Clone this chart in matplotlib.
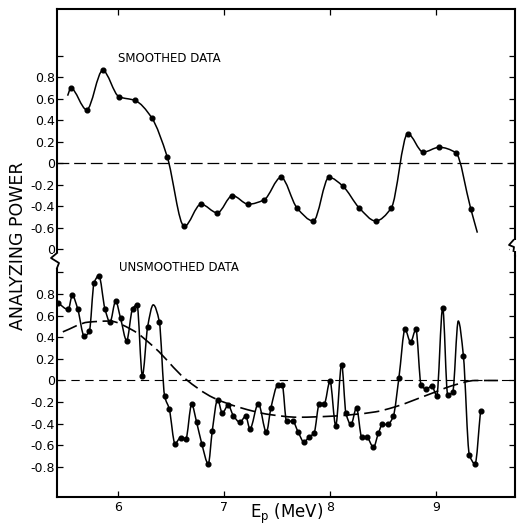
import numpy as np
import matplotlib
matplotlib.use('Agg')
import matplotlib.pyplot as plt
from matplotlib.path import Path
from matplotlib.patches import PathPatch, Rectangle
from matplotlib.lines import Line2D

# smoothed analyzing power (curve knots, first/last carry no dot)
sm_E = [5.525, 5.555, 5.705, 5.856, 6.01, 6.16, 6.318, 6.465, 6.626, 6.783,
        6.937, 7.08, 7.23, 7.377, 7.538, 7.689, 7.843, 7.99, 8.12, 8.276,
        8.43, 8.578, 8.733, 8.88, 9.03, 9.186, 9.327, 9.39]
sm_A = [0.63, 0.70, 0.50, 0.865, 0.62, 0.586, 0.425, 0.06, -0.586, -0.38,
        -0.46, -0.30, -0.38, -0.34, -0.13, -0.415, -0.536, -0.13, -0.21, -0.415,
        -0.536, -0.415, 0.276, 0.105, 0.15, 0.10, -0.42, -0.645]

# unsmoothed analyzing power
us_E = [5.437, 5.531, 5.569, 5.62, 5.682, 5.73, 5.774, 5.82, 5.877, 5.925,
        5.978, 6.025, 6.082, 6.138, 6.18, 6.23, 6.28, 6.333, 6.39, 6.44,
        6.484, 6.538, 6.59, 6.64, 6.695, 6.742, 6.79, 6.852, 6.89, 6.94,
        6.984, 7.04, 7.088, 7.15, 7.205, 7.245, 7.324, 7.40, 7.443, 7.507,
        7.55, 7.59, 7.648, 7.70, 7.755, 7.80, 7.85, 7.90, 7.946, 8.0,
        8.054, 8.11, 8.15, 8.198, 8.25, 8.30, 8.346, 8.41, 8.456, 8.494,
        8.544, 8.597, 8.65, 8.708, 8.76, 8.81, 8.86, 8.91, 8.96, 9.007,
        9.063, 9.11, 9.157, 9.21, 9.258, 9.314, 9.368, 9.42]
us_A = [0.715, 0.657, 0.787, 0.664, 0.41, 0.456, 0.90, 0.97, 0.664, 0.54,
        0.734, 0.574, 0.37, 0.664, 0.70, 0.046, 0.497, 0.70, 0.545, -0.143,
        -0.265, -0.583, -0.53, -0.54, -0.222, -0.386, -0.583, -0.77, -0.463, -0.176,
        -0.30, -0.23, -0.324, -0.386, -0.33, -0.447, -0.213, -0.478, -0.253, -0.046,
        -0.046, -0.377, -0.377, -0.478, -0.57, -0.525, -0.485, -0.213, -0.213, -0.006,
        -0.417, 0.148, -0.30, -0.407, -0.253, -0.525, -0.525, -0.617, -0.49, -0.407,
        -0.407, -0.33, 0.025, 0.472, 0.355, 0.472, -0.046, -0.08, -0.05, -0.139,
        0.673, -0.13, -0.11, 0.55, 0.231, -0.685, -0.77, -0.284]
us_no_dot = [6.333, 9.21]

# dashed fit through the unsmoothed data
fit_E = [5.48, 5.72, 5.92, 6.13, 6.35, 6.63, 6.90, 7.15, 7.43, 7.70,
         8.02, 8.43, 8.61, 8.93, 9.18, 9.37, 9.585]
fit_A = [0.45, 0.54, 0.55, 0.47, 0.30, 0.02, -0.16, -0.25, -0.315, -0.34,
         -0.33, -0.29, -0.245, -0.13, -0.04, 0.0, 0.0]

x_ticks = [6, 7, 8, 9]
top_yticks = [-0.8, -0.6, -0.4, -0.2, 0, 0.2, 0.4, 0.6, 0.8, 1.0]
top_ylabels = ['0', '-0.6', '-0.4', '-0.2', '0', '0.2', '0.4', '0.6', '0.8', '']
bot_yticks = [-0.8, -0.6, -0.4, -0.2, 0, 0.2, 0.4, 0.6, 0.8, 1.0]
bot_ylabels = ['-0.8', '-0.6', '-0.4', '-0.2', '0', '0.2', '0.4', '0.6', '0.8', '']

plt.rcParams['font.family'] = ['DejaVu Sans']
plt.rcParams['lines.scale_dashes'] = False


def smooth_path(x, y):
    # bezier segments through the knots, slopes kept monotone (no overshoot)
    x = np.asarray(x, float)
    y = np.asarray(y, float)
    h = np.diff(x)
    d = np.diff(y) / h
    m = np.zeros(len(x))
    m[0], m[-1] = d[0], d[-1]
    for i in range(1, len(x) - 1):
        if d[i - 1] * d[i] > 0:
            w1 = 2 * h[i] + h[i - 1]
            w2 = h[i] + 2 * h[i - 1]
            m[i] = (w1 + w2) / (w1 / d[i - 1] + w2 / d[i])
    verts = [(x[0], y[0])]
    codes = [Path.MOVETO]
    for i in range(len(x) - 1):
        verts += [(x[i] + h[i] / 3, y[i] + m[i] * h[i] / 3),
                  (x[i + 1] - h[i] / 3, y[i + 1] - m[i + 1] * h[i] / 3),
                  (x[i + 1], y[i + 1])]
        codes += [Path.CURVE4] * 3
    return Path(verts, codes)


W, H = 517, 529
fig = plt.figure(figsize=(W / 100, H / 100), dpi=100)


def fx(px):
    return px / W


def fy(py):
    return 1 - py / H


L, R, T, MID, B = 57, 515, 9, 256, 497
ax_top = fig.add_axes([fx(L), fy(MID), (R - L) / W, (MID - T) / H])
ax_bot = fig.add_axes([fx(L), fy(B), (R - L) / W, (B - MID) / H])

for ax in (ax_top, ax_bot):
    ax.set_xlim(5.425, 9.745)
    for s in ax.spines.values():
        s.set_linewidth(1.5)
    ax.set_xticks(x_ticks)
    ax.tick_params(direction='in', length=4.5, width=0.9, labelsize=9,
                   left=True, right=True, pad=1.5)

ax_top.set_ylim(-0.862, 1.437)
ax_top.spines['bottom'].set_visible(False)
ax_top.tick_params(axis='x', top=True, bottom=False, labelbottom=False)
ax_top.set_yticks(top_yticks)
ax_top.set_yticklabels(top_ylabels)

ax_bot.set_ylim(-1.078, 1.152)
ax_bot.spines['top'].set_visible(False)
ax_bot.tick_params(axis='x', top=False, bottom=True, pad=3)
ax_bot.set_xticklabels([str(t) for t in x_ticks])
ax_bot.set_yticks(bot_yticks)
ax_bot.set_yticklabels(bot_ylabels)

# top panel: smoothed data
ax_top.axhline(0, color='black', lw=0.9, ls=(0, (8.5, 3.5)))
ax_top.add_patch(PathPatch(smooth_path(sm_E, sm_A), fill=False, lw=1.1, ec='black'))
ax_top.plot(sm_E[1:-1], sm_A[1:-1], 'o', color='black', ms=3.4)
ax_top.text(6.0, 0.98, 'SMOOTHED DATA', fontsize=8.5, va='center', ha='left')

# bottom panel: unsmoothed data with fitted curve
ax_bot.axhline(0, color='black', lw=0.8, ls=(0, (6, 4)))
ax_bot.add_patch(PathPatch(smooth_path(fit_E, fit_A), fill=False, lw=1.2, ec='black',
                           ls=(0, (11, 4))))
ax_bot.add_patch(PathPatch(smooth_path(us_E, us_A), fill=False, lw=1.1, ec='black'))
dot_E = [e for e in us_E if e not in us_no_dot]
dot_A = [a for e, a in zip(us_E, us_A) if e not in us_no_dot]
ax_bot.plot(dot_E, dot_A, 'o', color='black', ms=3.4)
ax_bot.text(6.01, 1.05, 'UNSMOOTHED DATA', fontsize=8.5, va='center', ha='left')

# axis breaks
for (x0, y0, w, h), pts in [((53, 253, 8, 15), [(57, 253), (51, 258), (59, 263), (57, 268)]),
                            ((510, 240, 7, 11), [(513.5, 240), (509, 245), (514, 247), (513.5, 251)])]:
    fig.add_artist(Rectangle((fx(x0), fy(y0 + h)), w / W, h / H, transform=fig.transFigure,
                             facecolor='white', edgecolor='none', zorder=5))
    fig.add_artist(Line2D([fx(p[0]) for p in pts], [fy(p[1]) for p in pts],
                          transform=fig.transFigure, color='black', lw=1.3, zorder=6))

fig.text(fx(18.5), fy(246), 'ANALYZING POWER', rotation=90, fontsize=12.5,
         ha='center', va='center')
fig.text(fx(287), fy(514), r'E$_{\mathrm{p}}$ (MeV)', fontsize=12,
         ha='center', va='center')

fig.savefig('out.png', dpi=100)
